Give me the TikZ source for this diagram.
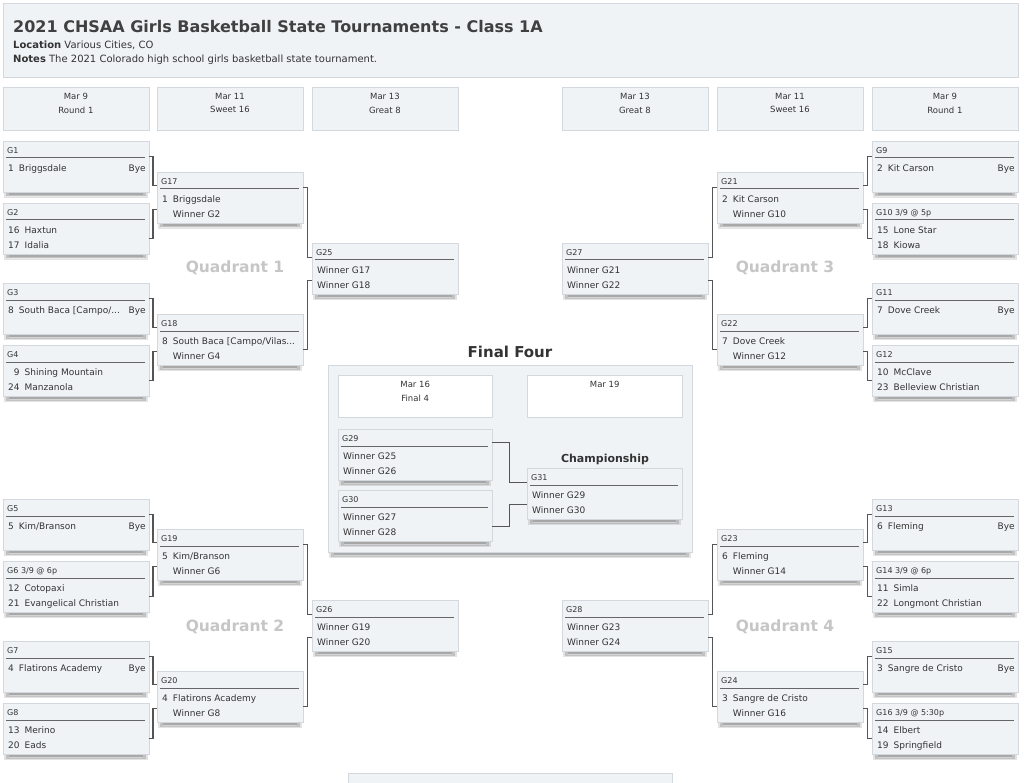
\documentclass[tikz,border=0pt]{standalone}
\usepackage{fontspec}
\setmainfont{DejaVu Sans}
\usetikzlibrary{calc}

\definecolor{boxfill}{HTML}{F0F3F6}
\definecolor{boxline}{HTML}{D2D8DE}
\definecolor{wire}{HTML}{555555}
\definecolor{ink}{HTML}{333333}
\definecolor{quad}{HTML}{C6C6C6}
\definecolor{shade}{HTML}{3A3A3A}

\tikzset{
  gamebox/.style={draw=boxline, fill=boxfill, minimum width=145.5pt, minimum height=51pt,
    inner sep=0pt, anchor=north west},
  headbox/.style={draw=boxline, fill=boxfill, minimum width=145.5pt, minimum height=43pt,
    inner sep=0pt, anchor=north west},
  headtext/.style={anchor=north, inner sep=0pt, align=center, text=ink,
    font=\fontsize{8.5}{13.5}\selectfont},
  gametitle/.style={anchor=base west, inner sep=0pt, text=ink, font=\fontsize{8}{9}\selectfont},
  gamerows/.style={anchor=north west, inner sep=0pt, text=ink, font=\fontsize{9}{14.5}\selectfont},
  byetext/.style={anchor=base east, inner sep=0pt, text=ink, font=\fontsize{9}{14.5}\selectfont},
  sepline/.style={draw=black!60, line width=1pt},
  wire/.style={draw=wire, line width=1.1pt},
  quadlabel/.style={text=quad, font=\bfseries\fontsize{15.5}{18}\selectfont},
}

% soft shadow under a box: {x}{y}{w}{h}
\newcommand{\boxshadow}[4]{%
  \fill[shade, opacity=0.12] (#1+1,#2+10) rectangle (#1+#3-1,#2+#4+6);
  \fill[shade, opacity=0.2] (#1+3,#2+10) rectangle (#1+#3-3,#2+#4+4.5);
  \fill[shade, opacity=0.3] (#1+6,#2+10) rectangle (#1+#3-6,#2+#4+3);
}
% one game: [width]{name}{x}{y}{title}{rows}
\newcommand{\game}[6][145.5]{%
  \boxshadow{#3}{#4}{#1}{51}
  \node[gamebox, minimum width=#1pt] (#2) at (#3,#4) {};
  \node[gametitle] (#2t) at ($(#2.north west)+(4,12.5)$) {#5};
  \draw[sepline] ($(#2.north west)+(3,17)$) -- ($(#2.north east)+(-4,17)$);
  \node[gamerows] (#2r) at ($(#2.north west)+(5,20.5)$)
    {\begin{tabular}{@{}r@{\hspace{5pt}}l@{}}#6\end{tabular}};
}
\newcommand{\bye}[1]{\node[byetext] (#1b) at ($(#1.north east)+(-3,30.7)$) {Bye};}
\newcommand{\head}[4]{%
  \node[headbox] (#1) at (#2,87) {};
  \node[headtext] (#1t) at ($(#1.north)+(0,6)$) {#3\\#4};
}

\begin{document}
\begin{tikzpicture}[x=1pt,y=-1pt]
\useasboundingbox[fill=white] (0,0) rectangle (1024,783);

% banner
\node[headbox, minimum width=1015pt, minimum height=74pt] (banner) at (3,3) {};
\node[anchor=base west, inner sep=0pt, text=black!75, font=\bfseries\fontsize{16}{18}\selectfont]
  (title) at (13,33) {2021 CHSAA Girls Basketball State Tournaments - Class 1A};
\node[anchor=base west, inner sep=0pt, text=ink, font=\fontsize{10}{12}\selectfont]
  (loc) at (13,49) {\textbf{Location} Various Cities, CO};
\node[anchor=base west, inner sep=0pt, text=ink, font=\fontsize{10}{12}\selectfont]
  (notes) at (13,63) {\textbf{Notes} The 2021 Colorado high school girls basketball state tournament.};

% round headers
\head{hr1}{3}{Mar 9}{Round 1}
\head{hs1}{157}{Mar 11}{Sweet 16}
\head{hg1}{312}{Mar 13}{Great 8}
\head{hg2}{562}{Mar 13}{Great 8}
\head{hs2}{717}{Mar 11}{Sweet 16}
\head{hr2}{872}{Mar 9}{Round 1}

% quadrant 1 and 2
\game{g1}{3}{141}{G1}{1 & Briggsdale}\bye{g1}
\game{g2}{3}{203}{G2}{16 & Haxtun\\17 & Idalia}
\game{g3}{3}{283}{G3}{8 & South Baca [Campo/...}\bye{g3}
\game{g4}{3}{345}{G4}{9 & Shining Mountain\\24 & Manzanola}
\game{g5}{3}{499}{G5}{5 & Kim/Branson}\bye{g5}
\game{g6}{3}{561}{G6 3/9 @ 6p}{12 & Cotopaxi\\21 & Evangelical Christian}
\game{g7}{3}{641}{G7}{4 & Flatirons Academy}\bye{g7}
\game{g8}{3}{703}{G8}{13 & Merino\\20 & Eads}
\game{g17}{157}{172}{G17}{1 & Briggsdale\\ & Winner G2}
\game{g18}{157}{314}{G18}{8 & South Baca [Campo/Vilas...\\ & Winner G4}
\game{g19}{157}{529}{G19}{5 & Kim/Branson\\ & Winner G6}
\game{g20}{157}{671}{G20}{4 & Flatirons Academy\\ & Winner G8}
\game{g25}{312}{243}{G25}{Winner G17\\Winner G18}
\game{g26}{312}{600}{G26}{Winner G19\\Winner G20}

% quadrant 3 and 4
\game{g9}{872}{141}{G9}{2 & Kit Carson}\bye{g9}
\game{g10}{872}{203}{G10 3/9 @ 5p}{15 & Lone Star\\18 & Kiowa}
\game{g11}{872}{283}{G11}{7 & Dove Creek}\bye{g11}
\game{g12}{872}{345}{G12}{10 & McClave\\23 & Belleview Christian}
\game{g13}{872}{499}{G13}{6 & Fleming}\bye{g13}
\game{g14}{872}{561}{G14 3/9 @ 6p}{11 & Simla\\22 & Longmont Christian}
\game{g15}{872}{641}{G15}{3 & Sangre de Cristo}\bye{g15}
\game{g16}{872}{703}{G16 3/9 @ 5:30p}{14 & Elbert\\19 & Springfield}
\game{g21}{717}{172}{G21}{2 & Kit Carson\\ & Winner G10}
\game{g22}{717}{314}{G22}{7 & Dove Creek\\ & Winner G12}
\game{g23}{717}{529}{G23}{6 & Fleming\\ & Winner G14}
\game{g24}{717}{671}{G24}{3 & Sangre de Cristo\\ & Winner G16}
\game{g27}{562}{243}{G27}{Winner G21\\Winner G22}
\game{g28}{562}{600}{G28}{Winner G23\\Winner G24}

\node[quadlabel] (q1) at (235,268) {Quadrant 1};
\node[quadlabel] (q2) at (235,627) {Quadrant 2};
\node[quadlabel] (q3) at (785,268) {Quadrant 3};
\node[quadlabel] (q4) at (785,627) {Quadrant 4};

% final four
\node[text=black!80, font=\bfseries\fontsize{15}{18}\selectfont] (fftitle) at (510,352) {Final Four};
\boxshadow{328}{365}{364}{187}
\node[gamebox, minimum width=364pt, minimum height=187pt] (ff) at (328,365) {};
\node[headbox, fill=white, minimum width=154pt, minimum height=42pt] (d16) at (338,375) {};
\node[headtext] (d16t) at ($(d16.north)+(0,6)$) {Mar 16\\Final 4};
\node[headbox, fill=white, minimum width=155pt, minimum height=42pt] (d19) at (527,375) {};
\node[headtext] (d19t) at ($(d19.north)+(0,6)$) {Mar 19};
\game[154]{g29}{338}{429}{G29}{Winner G25\\Winner G26}
\game[154]{g30}{338}{490}{G30}{Winner G27\\Winner G28}
\node[text=black!80, font=\bfseries\fontsize{11}{13}\selectfont] (champ) at (605,459) {Championship};
\game[155]{g31}{527}{468}{G31}{Winner G29\\Winner G30}

% next box, cut by the page
\node[headbox, minimum width=324pt, minimum height=20pt] (more) at (348,773) {};

% brackets
\foreach \s/\t/\a/\b in {g1/g17/10/12, g2/g17/-10/-12, g3/g18/10/12, g4/g18/-10/-12,
    g5/g19/10/12, g6/g19/-10/-12, g7/g20/10/12, g8/g20/-10/-12,
    g17/g25/10/11, g18/g25/-10/-12, g19/g26/10/11, g20/g26/-10/-12}
  \draw[wire] ([yshift=\a pt]\s.east) -| ($(\s.east)!0.5!(\t.west)$) |- ([yshift=\b pt]\t.west);
\foreach \s/\t/\a/\b in {g9/g21/10/12, g10/g21/-10/-12, g11/g22/10/12, g12/g22/-10/-12,
    g13/g23/10/12, g14/g23/-10/-12, g15/g24/10/12, g16/g24/-10/-12,
    g21/g27/10/11, g22/g27/-10/-12, g23/g28/10/11, g24/g28/-10/-12}
  \draw[wire] ([yshift=\a pt]\s.west) -| ($(\s.west)!0.5!(\t.east)$) |- ([yshift=\b pt]\t.east);
\foreach \s/\t/\a/\b in {g29/g31/12/11, g30/g31/-11/-11}
  \draw[wire] ([yshift=\a pt]\s.east) -| ($(\s.east)!0.5!(\t.west)$) |- ([yshift=\b pt]\t.west);
\end{tikzpicture}
\end{document}
